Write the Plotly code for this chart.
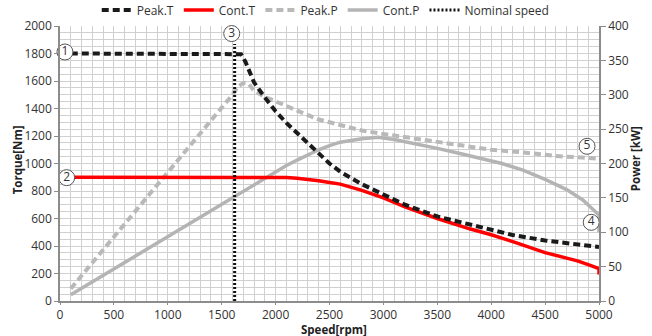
import plotly.graph_objects as go

# ---------------- data ----------------
peak_t_rpm = [100, 1600, 1680, 1720, 1800, 1900, 2000, 2100, 2200, 2350, 2500, 2600, 2800,
              3000, 3200, 3500, 3800, 4000, 4200, 4500, 4800, 5000]
peak_t_nm = [1800, 1800, 1795, 1740, 1590, 1480, 1380, 1295, 1220, 1110, 1000, 940, 850,
             775, 700, 615, 555, 520, 480, 440, 412, 393]

cont_t_rpm = [100, 2000, 2100, 2200, 2300, 2400, 2500, 2600, 2800, 3000, 3200, 3500, 3800,
              4000, 4200, 4500, 4700, 4800, 4900, 5000, 5000]
cont_t_nm = [900, 900, 898, 893, 885, 875, 862, 850, 805, 750, 685, 600, 525,
             482, 432, 352, 312, 292, 265, 235, 192]

peak_p_rpm = [100, 1600, 1650, 1700, 1750, 1800, 1900, 2000, 2200, 2400, 2600, 2800, 3000,
              3300, 3600, 4000, 4300, 4600, 5000]
peak_p_kw = [18, 300, 312, 317, 316, 306, 297, 290, 277, 264, 256, 248, 243,
             236, 230, 220, 216, 211, 207]

cont_p_rpm = [100, 2000, 2100, 2200, 2300, 2400, 2500, 2600, 2800, 2950, 3100, 3300, 3500,
              3700, 3900, 4100, 4300, 4500, 4700, 4850, 5000, 5000]
cont_p_kw = [9, 188, 197, 205, 213, 220, 226, 231, 236, 238, 235, 229, 222,
             215, 207, 200, 190, 177, 162, 147, 125, 100]

nominal_rpm = [1620, 1620]
nominal_nm = [0, 1870]

label_text = ["1", "2", "3", "4", "5"]
label_rpm = [46, 62, 1593, 4928, 4889]
label_nm = [1811, 897, 1945, 572, 1125]

x_ticks = list(range(0, 5001, 500))
torque_ticks = list(range(0, 2001, 200))
power_ticks = list(range(0, 401, 50))

x_title = "Speed[rpm]"
torque_title = "Torque[Nm]"
power_title = "Power [kW]"

# ---------------- figure ----------------
FONT = "Open Sans"
fig = go.Figure()

# power on base axis (right side), torque on overlaying axis (left) so torque draws on top
fig.add_trace(go.Scatter(x=cont_p_rpm, y=cont_p_kw, name="Cont.P", mode="lines",
                         line=dict(color="#b4b4b4", width=3.5), yaxis="y", legendrank=4))
fig.add_trace(go.Scatter(x=peak_p_rpm, y=peak_p_kw, name="Peak.P", mode="lines",
                         line=dict(color="#b9b9b9", width=4, dash="7px,4px"), yaxis="y",
                         legendrank=3))
fig.add_trace(go.Scatter(x=cont_t_rpm, y=cont_t_nm, name="Cont.T", mode="lines",
                         line=dict(color="#ff0000", width=3.5), yaxis="y2", legendrank=2))
fig.add_trace(go.Scatter(x=peak_t_rpm, y=peak_t_nm, name="Peak.T", mode="lines",
                         line=dict(color="#1a1a1a", width=4, dash="7px,4px"), yaxis="y2",
                         legendrank=1))
fig.add_trace(go.Scatter(x=nominal_rpm, y=nominal_nm, name="Nominal speed", mode="lines",
                         line=dict(color="#111111", width=3, dash="2px,2px"), yaxis="y2",
                         legendrank=5))
fig.add_trace(go.Scatter(x=label_rpm, y=label_nm, mode="markers+text", text=label_text,
                         textposition="middle center",
                         textfont=dict(family=FONT, size=12, color="#333333"),
                         marker=dict(size=16, color="white",
                                     line=dict(color="#555555", width=1)),
                         yaxis="y2", showlegend=False, cliponaxis=False, hoverinfo="skip"))

grid_col = "#d0d0d0"
axis_col = "#8c8c8c"
tick_font = dict(family=FONT, size=12, color="#333333")
title_font = dict(family=FONT, size=11.5, color="#222222")

fig.update_layout(
    width=652, height=336,
    margin=dict(l=60, r=53, t=26, b=35, autoexpand=False),
    paper_bgcolor="white", plot_bgcolor="white",
    font=dict(family=FONT, size=12, color="#333333"),
    showlegend=True,
    legend=dict(orientation="h", x=0.493, xanchor="center", y=1.058, yanchor="middle",
                font=dict(family=FONT, size=12, color="#333333"),
                bgcolor="rgba(0,0,0,0)", tracegroupgap=0, itemwidth=30),
    xaxis=dict(range=[0, 5000], tickvals=x_ticks, showgrid=True, gridcolor=grid_col,
               gridwidth=1, minor=dict(dtick=100, showgrid=True, gridcolor=grid_col,
                                       gridwidth=1),
               showline=True, linecolor=axis_col, linewidth=1.5, ticks="outside",
               ticklen=2, tickcolor=axis_col, tickfont=tick_font, zeroline=False,
               automargin=False),
    yaxis=dict(range=[0, 400], tickvals=power_ticks, side="right", showgrid=True,
               gridcolor=grid_col, gridwidth=1,
               minor=dict(dtick=10, showgrid=True, gridcolor=grid_col, gridwidth=1),
               showline=True, linecolor=axis_col, linewidth=1.5, ticks="outside",
               ticklen=5, tickcolor=axis_col, tickfont=tick_font, zeroline=False,
               automargin=False),
    yaxis2=dict(range=[0, 2000], tickvals=torque_ticks, side="left", overlaying="y",
                showgrid=False, showline=True, linecolor=axis_col, linewidth=1.5,
                ticks="outside", ticklen=4, tickcolor=axis_col, tickfont=tick_font,
                zeroline=False, automargin=False),
    annotations=[
        dict(text=f"<b>{x_title}</b>", xref="paper", yref="paper", x=0.5086, y=-0.105,
             xanchor="center", yanchor="middle", showarrow=False, font=title_font),
        dict(text=f"<b>{torque_title}</b>", xref="paper", yref="paper", x=-0.0798,
             y=0.515, xanchor="center", yanchor="middle", textangle=-90,
             showarrow=False, font=title_font),
        dict(text=f"<b>{power_title}</b>", xref="paper", yref="paper", x=1.0675,
             y=0.517, xanchor="center", yanchor="middle", textangle=-90,
             showarrow=False, font=title_font),
    ],
)

fig.write_html("out.html", config={"displayModeBar": False},
               post_script="document.body.style.margin='0px';")
